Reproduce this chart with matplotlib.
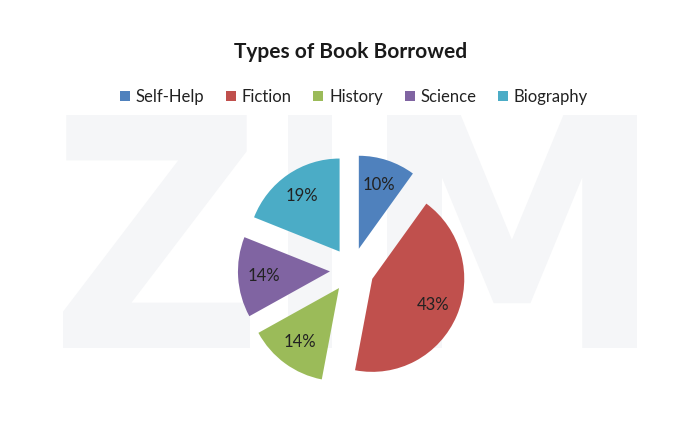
import matplotlib
import matplotlib.pyplot as plt
from matplotlib.font_manager import FontProperties
from matplotlib.patches import PathPatch
from matplotlib.textpath import TextPath
from matplotlib.transforms import Affine2D, IdentityTransform

matplotlib.use('agg')

# Chart data
categories = ['Self-Help', 'Fiction', 'History', 'Science', 'Biography']
shares = [10, 43, 14, 14, 19]
colors = ['#4F81BD', '#C0504D', '#9BBB59', '#8064A2', '#4BACC6']
title = 'Types of Book Borrowed'

# Background watermark letters and their pixel boxes (left, top, right, bottom)
watermark = ['Z', 'I', 'M']
watermark_boxes = [(63, 115, 250, 348), (288, 115, 332, 348), (387, 115, 637, 348)]

W, H = 700, 434
fig = plt.figure(figsize=(W / 100, H / 100), dpi=100)
fig.patch.set_facecolor('white')

wm_font = FontProperties(family='DejaVu Sans', weight='bold')
for letter, (x0, y0, x1, y1) in zip(watermark, watermark_boxes):
    path = TextPath((0, 0), letter, size=1, prop=wm_font)
    ext = path.get_extents()
    sx = (x1 - x0) / ext.width
    sy = (y1 - y0) / ext.height
    tr = Affine2D().translate(-ext.x0, -ext.y0).scale(sx, sy).translate(x0, H - y1)
    patch = PathPatch(path, transform=tr + IdentityTransform(),
                      facecolor='#F5F6F8', edgecolor='none', zorder=-1)
    fig.add_artist(patch)

fig.text(351 / W, 1 - 52 / H, title, ha='center', va='center',
         fontsize=15, fontweight='bold', family='Lato', color='#1a1a1a')

# Pie: centre ~ (352, 270) px, radii ~92 x 93 px
rx, ry = 92, 93
cx, cy = 352, 270
ax = fig.add_axes([(cx - 1.5 * rx) / W, (H - cy - 1.5 * ry) / H, 3 * rx / W, 3 * ry / H])
wedges, _, autotexts = ax.pie(
    shares, colors=colors, startangle=90, counterclock=False,
    explode=[0.24] * len(shares), autopct='%d%%', pctdistance=0.72,
    textprops={'fontsize': 12, 'family': 'Lato', 'color': '#222222'},
    wedgeprops={'linewidth': 0})
ax.set_xlim(-1.5, 1.5)
ax.set_ylim(-1.5, 1.5)
ax.set_aspect('auto')
ax.axis('off')

leg = fig.legend(wedges, categories, loc='center', bbox_to_anchor=(354 / W, 1 - 97 / H),
                 ncol=5, frameon=False, prop={'family': 'Lato', 'size': 12},
                 handlelength=0.6, handleheight=0.6, handletextpad=0.35,
                 columnspacing=1.3)
for t in leg.get_texts():
    t.set_color('#222222')

fig.savefig('out.png', dpi=100)
